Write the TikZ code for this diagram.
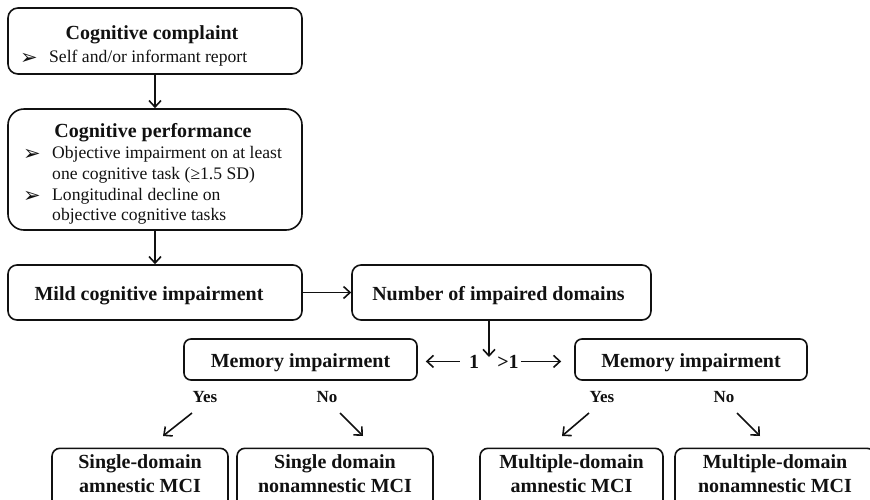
\documentclass[tikz,border=0pt]{standalone}
\usepackage{fontspec}
\setmainfont{Liberation Serif}
\newfontfamily\dingfont{DejaVu Sans}
\usetikzlibrary{arrows.meta}
\definecolor{ink}{HTML}{111111}
\begin{document}
\begin{tikzpicture}[x=1pt,y=-1pt,
  box/.style={draw=ink, line width=1.6pt, rounded corners=#1, inner sep=0pt},
  box/.default=8pt,
  head/.style={font=\fontsize{20}{24}\selectfont\bfseries, text=ink, inner sep=0pt},
  small head/.style={font=\fontsize{17}{20}\selectfont\bfseries, text=ink, inner sep=0pt, anchor=base},
  body/.style={font=\fontsize{17.6}{21}\selectfont, text=ink, inner sep=0pt, anchor=base west},
  bul/.style={font=\dingfont\fontsize{21}{23}\selectfont, text=ink, inner sep=0pt, anchor=base west},
  oneline/.style={head, text height=15pt, text depth=0pt},
  twoline/.style={head, align=center},
  link/.style={draw=ink, line width=1.6pt, -{Straight Barb[length=6.5pt,width=12pt]}},
]
\path[use as bounding box] (0,0) rectangle (870,499);
\clip (0,0) rectangle (870,499);

% cognitive complaint
\node[box=10pt, minimum width=294pt, minimum height=66pt] (cc) at (155,41) {};
\node[head, anchor=base] (cc-title) at (152,39) {Cognitive complaint};
\node[bul] (cc-b1) at (20,64) {➢};
\node[body] (cc-t1) at (49,62) {Self and/or informant report};

% cognitive performance
\node[box=16pt, minimum width=294pt, minimum height=121pt] (cp) at (155,169.5) {};
\node[head, anchor=base] (cp-title) at (153,137) {Cognitive performance};
\node[bul] (cp-b1) at (23,160) {➢};
\node[body] (cp-t1) at (52,158) {Objective impairment on at least};
\node[body] (cp-t2) at (52,179) {one cognitive task (≥1.5 SD)};
\node[bul] (cp-b2) at (23,202) {➢};
\node[body] (cp-t3) at (52,200) {Longitudinal decline on};
\node[body] (cp-t4) at (52,220) {objective cognitive tasks};

% diagnosis and domain count
\node[box=9pt, minimum width=294pt, minimum height=55pt] (mci) at (155,292.5) {};
\node[head, anchor=base] (mci-text) at (149,300) {Mild cognitive impairment};
\node[box=9pt, minimum width=299pt, minimum height=55pt] (num) at (501.5,292.5) {};
\node[head, anchor=base] (num-text) at (498.5,300) {Number of impaired domains};

% memory impairment branches
\node[box=7pt, oneline, minimum width=233pt, minimum height=41pt] (mem1) at (300.5,359.5) {Memory impairment};
\node[box=7pt, oneline, minimum width=232pt, minimum height=41pt] (mem2) at (691,359.5) {Memory impairment};

\node[head, anchor=base] (one) at (474,368) {1};
\node[head, anchor=base] (gt) at (508,368) {>1};

\node[small head] (yes1) at (205,402.5) {Yes};
\node[small head] (no1) at (327,402.5) {No};
\node[small head] (yes2) at (602,402.5) {Yes};
\node[small head] (no2) at (724,402.5) {No};

% subtypes: boxes run past the lower edge
\node[box=8pt, minimum width=176pt, minimum height=80pt, anchor=north] (sa) at (140,447.5) {};
\node[box=8pt, minimum width=196pt, minimum height=80pt, anchor=north] (sn) at (335,447.5) {};
\node[box=8pt, minimum width=183pt, minimum height=80pt, anchor=north] (ma) at (571.5,447.5) {};
\node[box=8pt, minimum width=200pt, minimum height=80pt, anchor=north] (mn) at (775,447.5) {};
\node[twoline] (sa-text) at (140,473.5) {Single-domain\\amnestic MCI};
\node[twoline] (sn-text) at (335,473.5) {Single domain\\nonamnestic MCI};
\node[twoline] (ma-text) at (571.5,473.5) {Multiple-domain\\amnestic MCI};
\node[twoline] (mn-text) at (775,473.5) {Multiple-domain\\nonamnestic MCI};

% connectors
\draw[link] (cc.south) -- (cp.north);
\draw[link] (cp.south) -- (mci.north);
\draw[link] (mci.east) -- (num.west);

\coordinate (split) at (489,357);
\draw[link] (split |- num.south) -- (split);
\draw[link, shorten <=9pt, shorten >=8pt] (one.west) -- (one.west -| mem1.east);
\draw[link, shorten <=2pt, shorten >=13pt] (gt.east) -- (gt.east -| mem2.west);

\coordinate (ys1) at (192,413); \coordinate (ye1) at (163,436);
\coordinate (ns1) at (340,413); \coordinate (ne1) at (363,436);
\coordinate (ys2) at (589,413); \coordinate (ye2) at (562,436);
\coordinate (ns2) at (737,413); \coordinate (ne2) at (760,436);
\draw[link] (ys1) -- (ye1);
\draw[link] (ns1) -- (ne1);
\draw[link] (ys2) -- (ye2);
\draw[link] (ns2) -- (ne2);
\end{tikzpicture}
\end{document}
